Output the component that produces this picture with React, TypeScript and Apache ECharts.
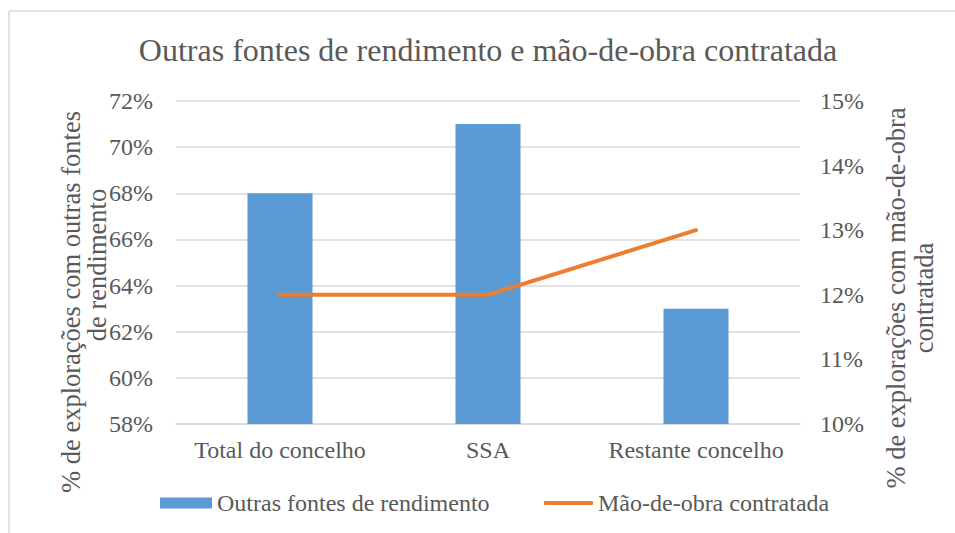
import React, { useEffect, useRef } from "react";
import * as echarts from "echarts";

const categories = ["Total do concelho", "SSA", "Restante concelho"];
const outrasFontes = [68, 71, 63];
const maoDeObra = [12, 12, 13];
const leftNameLines = ["% de explorações com outras fontes", "de rendimento"];
const rightNameLines = ["% de explorações com mão-de-obra", "contratada"];
const titleText = "Outras fontes de rendimento e mão-de-obra contratada";
const seriesNames = ["Outras fontes de rendimento", "Mão-de-obra contratada"];

const FONT = "Liberation Serif";
const TXT = "#595959";
const GRID = "#d9d9d9";
const FS = 24;
const NFS = 26.5;

const vText = (text: string, x: number, y: number) => ({
  type: "text", x, y, rotation: Math.PI / 2,
  style: { text, fontFamily: FONT, fontSize: NFS, fill: TXT, align: "center", verticalAlign: "middle" },
});

export default function App() {
  const ref = useRef<HTMLDivElement>(null);
  useEffect(() => {
    const chart = echarts.init(ref.current!, null, { renderer: "svg" });
    chart.setOption({
      animation: false,
      backgroundColor: "#fff",
      textStyle: { fontFamily: FONT, color: TXT },
      grid: { left: 176, right: 155, top: 101, bottom: 109 },
      graphic: [
        { type: "line", shape: { x1: 9, y1: 11, x2: 955, y2: 11 }, style: { stroke: GRID, lineWidth: 1.5 } },
        { type: "line", shape: { x1: 9, y1: 11, x2: 9, y2: 533 }, style: { stroke: GRID, lineWidth: 1.5 } },
        {
          type: "text", x: 488, y: 50,
          style: { text: titleText, fontFamily: FONT, fontSize: 32, fill: TXT, align: "center", verticalAlign: "middle" },
        },
        vText(leftNameLines[0], 71, 302),
        vText(leftNameLines[1], 97, 265),
        vText(rightNameLines[0], 896, 298),
        vText(rightNameLines[1], 924, 298),
      ],
      legend: [
        {
          data: [seriesNames[0]], left: 160, top: 491, itemWidth: 52, itemHeight: 11, icon: "rect",
          textStyle: { fontFamily: FONT, fontSize: FS, color: TXT }, padding: 0,
        },
        {
          data: [{ name: seriesNames[1], icon: "roundRect" }], left: 544, top: 491, itemWidth: 49, itemHeight: 4,
          textStyle: { fontFamily: FONT, fontSize: FS, color: TXT }, padding: 0,
        },
      ],
      xAxis: {
        type: "category", data: categories,
        axisLine: { lineStyle: { color: GRID, width: 1.5 } },
        axisTick: { show: false },
        axisLabel: { fontFamily: FONT, fontSize: FS, color: TXT, margin: 14, interval: 0 },
      },
      yAxis: [
        {
          type: "value", min: 58, max: 72, interval: 2,
          axisLabel: { formatter: "{value}%", fontFamily: FONT, fontSize: FS, color: TXT, margin: 23 },
          splitLine: { lineStyle: { color: GRID, width: 1.5 } },
          axisLine: { show: false }, axisTick: { show: false },
        },
        {
          type: "value", min: 10, max: 15, interval: 1, position: "right",
          axisLabel: { formatter: "{value}%", fontFamily: FONT, fontSize: FS, color: TXT, margin: 20 },
          splitLine: { show: false },
          axisLine: { show: false }, axisTick: { show: false },
        },
      ],
      series: [
        {
          name: seriesNames[0], type: "bar", data: outrasFontes, yAxisIndex: 0,
          barWidth: 65, itemStyle: { color: "#5b9bd5" },
        },
        {
          name: seriesNames[1], type: "line", data: maoDeObra, yAxisIndex: 1,
          symbol: "none", lineStyle: { color: "#ed7d31", width: 4, cap: "round" },
          itemStyle: { color: "#ed7d31" },
        },
      ],
    });
    return () => chart.dispose();
  }, []);
  return <div ref={ref} style={{ position: "absolute", left: 0, top: 0, width: 955, height: 533 }} />;
}
